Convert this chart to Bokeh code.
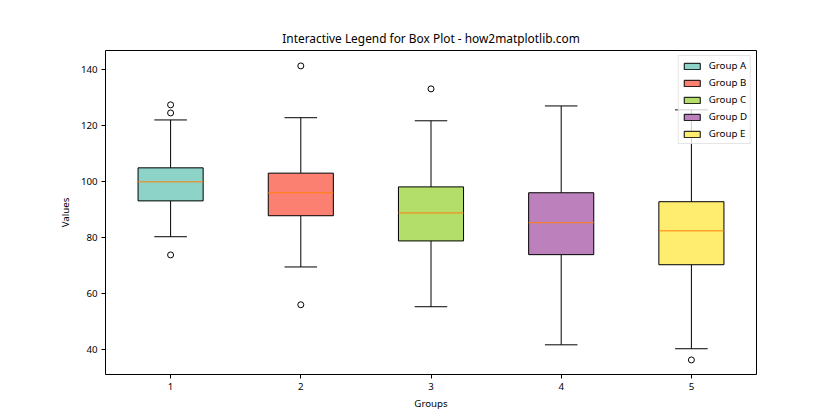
from bokeh.plotting import figure
from bokeh.models import Range1d, Legend, LegendItem, FixedTicker, ColumnDataSource
from bokeh.embed import file_html
from bokeh.resources import INLINE

groups = ["Group A", "Group B", "Group C", "Group D", "Group E"]
positions = [1, 2, 3, 4, 5]
colors = ["#8dd3c7", "#fb8072", "#b3de69", "#bc80bd", "#ffed6f"]
q1 = [93.2, 87.9, 78.9, 74.0, 70.4]
medians = [100.0, 96.1, 88.9, 85.4, 82.5]
q3 = [105.0, 103.1, 98.2, 96.1, 92.9]
lower_whisker = [80.4, 69.6, 55.4, 41.8, 40.4]
upper_whisker = [122.1, 122.9, 121.8, 127.1, 125.7]
outlier_pos = [1, 1, 1, 2, 2, 3, 5]
outlier_values = [127.5, 124.6, 73.9, 141.4, 56.1, 133.2, 36.4]
y_ticks = [40, 60, 80, 100, 120, 140]
x_ticks = [1, 2, 3, 4, 5]

BOX_W = 0.5
CAP_W = 0.25
FONT = "Noto Sans"

src = ColumnDataSource(dict(
    x=positions, color=colors, q1=q1, med=medians, q3=q3,
    lo=lower_whisker, hi=upper_whisker,
    xl=[v - BOX_W / 2 for v in positions], xr=[v + BOX_W / 2 for v in positions],
    cl=[v - CAP_W / 2 for v in positions], cr=[v + CAP_W / 2 for v in positions],
))

p = figure(width=840, height=420, output_backend="svg", toolbar_location=None,
           x_range=Range1d(0.5, 5.5), y_range=Range1d(31.2, 146.9),
           min_border_left=105, min_border_right=84, min_border_top=50, min_border_bottom=46,
           title="Interactive Legend for Box Plot - how2matplotlib.com")
p.title.align = "center"
p.title.text_font = FONT
p.title.text_font_size = "11.9px"
p.title.text_font_style = "normal"
p.title.text_color = "#000000"

p.xgrid.visible = False
p.ygrid.visible = False
p.outline_line_color = "#000000"
p.outline_line_width = 1

for ax in (p.xaxis[0], p.yaxis[0]):
    ax.axis_line_color = None
    ax.major_tick_line_color = "#000000"
    ax.major_tick_out = 4
    ax.major_tick_in = 0
    ax.minor_tick_line_color = None
    ax.major_label_text_font = FONT
    ax.major_label_text_font_size = "9.7px"
    ax.major_label_text_color = "#000000"
    ax.axis_label_text_font = FONT
    ax.axis_label_text_font_size = "9.7px"
    ax.axis_label_text_font_style = "normal"
    ax.axis_label_text_color = "#000000"
p.xaxis.ticker = FixedTicker(ticks=x_ticks)
p.yaxis.ticker = FixedTicker(ticks=y_ticks)
p.xaxis.axis_label = "Groups"
p.yaxis.axis_label = "Values"
p.xaxis.major_label_standoff = 4
p.yaxis.major_label_standoff = 4
p.xaxis.axis_label_standoff = 4
p.yaxis.axis_label_standoff = 6

# whiskers
p.segment(x0="x", y0="q3", x1="x", y1="hi", source=src, line_color="black", line_width=1)
p.segment(x0="x", y0="q1", x1="x", y1="lo", source=src, line_color="black", line_width=1)
# caps
p.segment(x0="cl", y0="hi", x1="cr", y1="hi", source=src, line_color="black", line_width=1)
p.segment(x0="cl", y0="lo", x1="cr", y1="lo", source=src, line_color="black", line_width=1)
# boxes
boxes = p.vbar(x="x", width=BOX_W, top="q3", bottom="q1", source=src,
               fill_color="color", line_color="black", line_width=1)
# medians
p.segment(x0="xl", y0="med", x1="xr", y1="med", source=src, line_color="#ff7f0e", line_width=1)
# outliers
p.scatter(x=outlier_pos, y=outlier_values, marker="circle", size=6,
          fill_color=None, line_color="black", line_width=1)

items = [LegendItem(label=g, renderers=[boxes], index=i) for i, g in enumerate(groups)]
legend = Legend(items=items, location="top_right", margin=5, padding=3,
                spacing=4, label_height=12, glyph_height=8, glyph_width=20,
                label_standoff=7, label_text_font=FONT, label_text_font_size="9.7px",
                label_text_color="#000000",
                border_line_color="#cccccc", border_line_width=1,
                background_fill_color="white", background_fill_alpha=0.8)
p.add_layout(legend)

open("out.html", "w").write(file_html(p, INLINE))
